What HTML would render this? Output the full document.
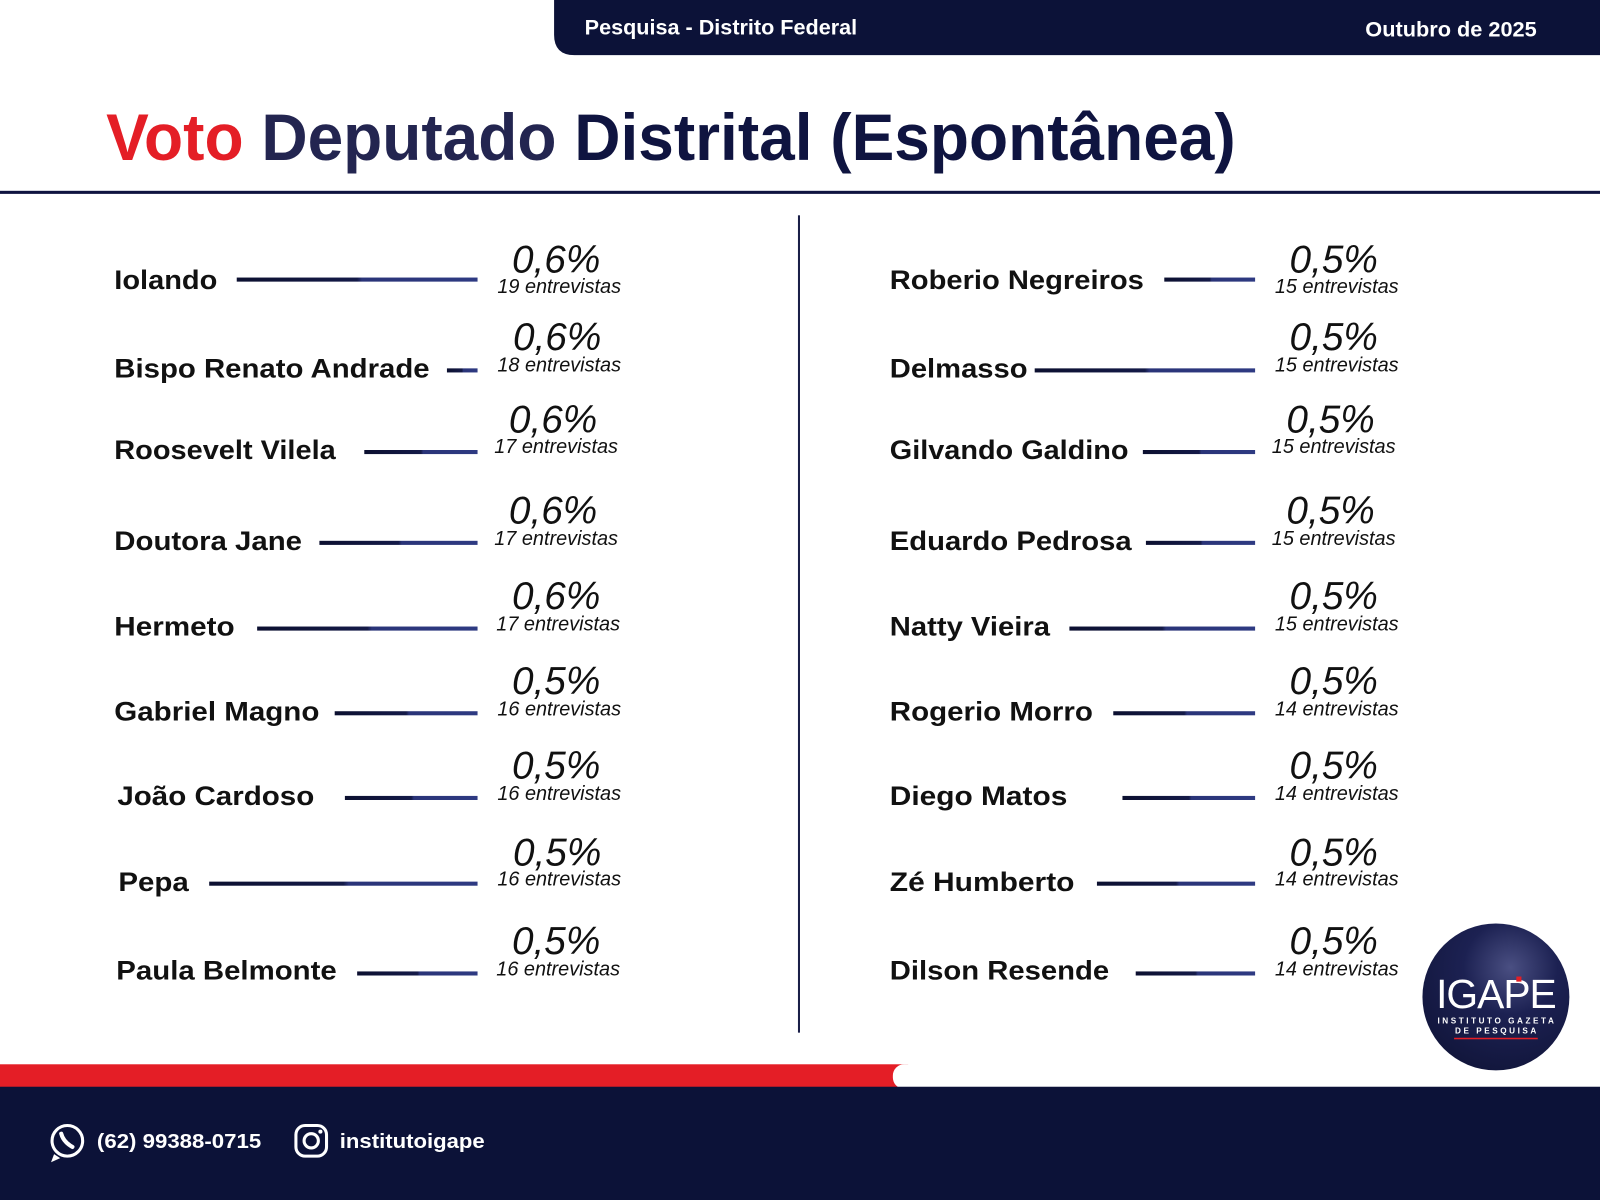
<!DOCTYPE html>
<html><head><meta charset="utf-8"><style>
html,body{margin:0;padding:0;background:#fff;}
svg{display:block;}
text{font-family:"Liberation Sans",Arial,sans-serif;}
.n{font-weight:bold;font-size:26px;fill:#111;}
.p{font-style:italic;font-size:38px;fill:#111;}
.s{font-style:italic;font-size:19.5px;fill:#111;}
</style></head><body>
<svg width="1600" height="1200" viewBox="0 0 1568 1176" xmlns="http://www.w3.org/2000/svg">
<defs>
<linearGradient id="g" x1="0" x2="1" y1="0" y2="0">
<stop offset="0" stop-color="#0c1030"/><stop offset="0.5" stop-color="#141a48"/><stop offset="0.52" stop-color="#2a3478"/><stop offset="1" stop-color="#2e3a82"/>
</linearGradient>
<radialGradient id="lg" cx="0.6" cy="0.3" r="0.8">
<stop offset="0" stop-color="#4a4f82"/><stop offset="0.4" stop-color="#1c2152"/><stop offset="1" stop-color="#101438"/>
</radialGradient>
</defs>
<path d="M543 0 H1568 V54 H563 Q543 54 543 34 Z" fill="#0c1238"/>
<text x="573" y="34" font-size="21" font-weight="bold" fill="#fff" textLength="267" lengthAdjust="spacingAndGlyphs">Pesquisa - Distrito Federal</text>
<text x="1338" y="36" font-size="21" font-weight="bold" fill="#fff" textLength="168" lengthAdjust="spacingAndGlyphs">Outubro de 2025</text>
<text x="104" y="157" font-size="65" font-weight="bold" textLength="1107" lengthAdjust="spacingAndGlyphs"><tspan fill="#e41e26">Voto</tspan><tspan fill="#232550"> Deputado</tspan><tspan fill="#0f1440"> Distrital (Espontânea)</tspan></text>
<rect x="0" y="187" width="1568" height="3" fill="#0f1440"/>
<rect x="782" y="211" width="2" height="801" fill="#1a1f48"/>

<g>
<text class="n" x="112" y="283" textLength="101" lengthAdjust="spacingAndGlyphs">Iolando</text><rect x="232" y="272" width="236" height="4" fill="url(#g)"/>
<text class="p" x="545" y="267" text-anchor="middle">0,6%</text><text class="s" x="548" y="287" text-anchor="middle">19 entrevistas</text>

<text class="n" x="112" y="370" textLength="309" lengthAdjust="spacingAndGlyphs">Bispo Renato Andrade</text><rect x="438" y="361" width="30" height="4" fill="url(#g)"/>
<text class="p" x="546" y="343" text-anchor="middle">0,6%</text><text class="s" x="548" y="364" text-anchor="middle">18 entrevistas</text>

<text class="n" x="112" y="450" textLength="217" lengthAdjust="spacingAndGlyphs">Roosevelt Vilela</text><rect x="357" y="441" width="111" height="4" fill="url(#g)"/>
<text class="p" x="542" y="424" text-anchor="middle">0,6%</text><text class="s" x="545" y="444" text-anchor="middle">17 entrevistas</text>

<text class="n" x="112" y="539" textLength="184" lengthAdjust="spacingAndGlyphs">Doutora Jane</text><rect x="313" y="530" width="155" height="4" fill="url(#g)"/>
<text class="p" x="542" y="513" text-anchor="middle">0,6%</text><text class="s" x="545" y="534" text-anchor="middle">17 entrevistas</text>

<text class="n" x="112" y="623" textLength="118" lengthAdjust="spacingAndGlyphs">Hermeto</text><rect x="252" y="614" width="216" height="4" fill="url(#g)"/>
<text class="p" x="545" y="597" text-anchor="middle">0,6%</text><text class="s" x="547" y="618" text-anchor="middle">17 entrevistas</text>

<text class="n" x="112" y="706" textLength="201" lengthAdjust="spacingAndGlyphs">Gabriel Magno</text><rect x="328" y="697" width="140" height="4" fill="url(#g)"/>
<text class="p" x="545" y="680" text-anchor="middle">0,5%</text><text class="s" x="548" y="701" text-anchor="middle">16 entrevistas</text>

<text class="n" x="115" y="789" textLength="193" lengthAdjust="spacingAndGlyphs">João Cardoso</text><rect x="338" y="780" width="130" height="4" fill="url(#g)"/>
<text class="p" x="545" y="763" text-anchor="middle">0,5%</text><text class="s" x="548" y="784" text-anchor="middle">16 entrevistas</text>

<text class="n" x="116" y="873" textLength="69" lengthAdjust="spacingAndGlyphs">Pepa</text><rect x="205" y="864" width="263" height="4" fill="url(#g)"/>
<text class="p" x="546" y="848" text-anchor="middle">0,5%</text><text class="s" x="548" y="868" text-anchor="middle">16 entrevistas</text>

<text class="n" x="114" y="960" textLength="216" lengthAdjust="spacingAndGlyphs">Paula Belmonte</text><rect x="350" y="952" width="118" height="4" fill="url(#g)"/>
<text class="p" x="545" y="935" text-anchor="middle">0,5%</text><text class="s" x="547" y="956" text-anchor="middle">16 entrevistas</text>
</g>

<g>
<text class="n" x="872" y="283" textLength="249" lengthAdjust="spacingAndGlyphs">Roberio Negreiros</text><rect x="1141" y="272" width="89" height="4" fill="url(#g)"/>
<text class="p" x="1307" y="267" text-anchor="middle">0,5%</text><text class="s" x="1310" y="287" text-anchor="middle">15 entrevistas</text>

<text class="n" x="872" y="370" textLength="135" lengthAdjust="spacingAndGlyphs">Delmasso</text><rect x="1014" y="361" width="216" height="4" fill="url(#g)"/>
<text class="p" x="1307" y="343" text-anchor="middle">0,5%</text><text class="s" x="1310" y="364" text-anchor="middle">15 entrevistas</text>

<text class="n" x="872" y="450" textLength="234" lengthAdjust="spacingAndGlyphs">Gilvando Galdino</text><rect x="1120" y="441" width="110" height="4" fill="url(#g)"/>
<text class="p" x="1304" y="424" text-anchor="middle">0,5%</text><text class="s" x="1307" y="444" text-anchor="middle">15 entrevistas</text>

<text class="n" x="872" y="539" textLength="237" lengthAdjust="spacingAndGlyphs">Eduardo Pedrosa</text><rect x="1123" y="530" width="107" height="4" fill="url(#g)"/>
<text class="p" x="1304" y="513" text-anchor="middle">0,5%</text><text class="s" x="1307" y="534" text-anchor="middle">15 entrevistas</text>

<text class="n" x="872" y="623" textLength="157" lengthAdjust="spacingAndGlyphs">Natty Vieira</text><rect x="1048" y="614" width="182" height="4" fill="url(#g)"/>
<text class="p" x="1307" y="597" text-anchor="middle">0,5%</text><text class="s" x="1310" y="618" text-anchor="middle">15 entrevistas</text>

<text class="n" x="872" y="706" textLength="199" lengthAdjust="spacingAndGlyphs">Rogerio Morro</text><rect x="1091" y="697" width="139" height="4" fill="url(#g)"/>
<text class="p" x="1307" y="680" text-anchor="middle">0,5%</text><text class="s" x="1310" y="701" text-anchor="middle">14 entrevistas</text>

<text class="n" x="872" y="789" textLength="174" lengthAdjust="spacingAndGlyphs">Diego Matos</text><rect x="1100" y="780" width="130" height="4" fill="url(#g)"/>
<text class="p" x="1307" y="763" text-anchor="middle">0,5%</text><text class="s" x="1310" y="784" text-anchor="middle">14 entrevistas</text>

<text class="n" x="872" y="873" textLength="181" lengthAdjust="spacingAndGlyphs">Zé Humberto</text><rect x="1075" y="864" width="155" height="4" fill="url(#g)"/>
<text class="p" x="1307" y="848" text-anchor="middle">0,5%</text><text class="s" x="1310" y="868" text-anchor="middle">14 entrevistas</text>

<text class="n" x="872" y="960" textLength="215" lengthAdjust="spacingAndGlyphs">Dilson Resende</text><rect x="1113" y="952" width="117" height="4" fill="url(#g)"/>
<text class="p" x="1307" y="935" text-anchor="middle">0,5%</text><text class="s" x="1310" y="956" text-anchor="middle">14 entrevistas</text>
</g>

<rect x="0" y="1043" width="890" height="24" fill="#e41e26"/>
<rect x="875" y="1043" width="693" height="24" rx="11" fill="#fff"/>
<rect x="0" y="1065" width="1568" height="111" fill="#0c1238"/>
<circle cx="66" cy="1118" r="15" fill="none" stroke="#fff" stroke-width="3"/>
<path d="M53 1131 L50 1139 L59 1135 Z" fill="#fff"/>
<path d="M60 1111 q2 8 11 13" stroke="#fff" stroke-width="4" fill="none" stroke-linecap="round"/>
<text x="95" y="1125" font-size="20" font-weight="bold" fill="#fff" textLength="161" lengthAdjust="spacingAndGlyphs">(62) 99388-0715</text>
<rect x="290" y="1103" width="30" height="30" rx="9" fill="none" stroke="#fff" stroke-width="3"/>
<circle cx="305" cy="1118" r="7" fill="none" stroke="#fff" stroke-width="3"/>
<circle cx="314" cy="1109" r="2" fill="#fff"/>
<text x="333" y="1125" font-size="20" font-weight="bold" fill="#fff" textLength="142" lengthAdjust="spacingAndGlyphs">institutoigape</text>

<circle cx="1466" cy="977" r="72" fill="url(#lg)"/>
<text x="1466" y="988" font-size="40" fill="#fff" text-anchor="middle" letter-spacing="-1">IGAPE</text>
<rect x="1486" y="957" width="5" height="5" fill="#e41e26"/>
<text x="1467" y="1003" font-size="8" font-weight="bold" fill="#fff" text-anchor="middle" letter-spacing="2.5">INSTITUTO GAZETA</text>
<text x="1467" y="1013" font-size="8" font-weight="bold" fill="#fff" text-anchor="middle" letter-spacing="2.5">DE PESQUISA</text>
<rect x="1425" y="1017" width="82" height="1.5" fill="#e41e26"/>
</svg>
</body></html>
